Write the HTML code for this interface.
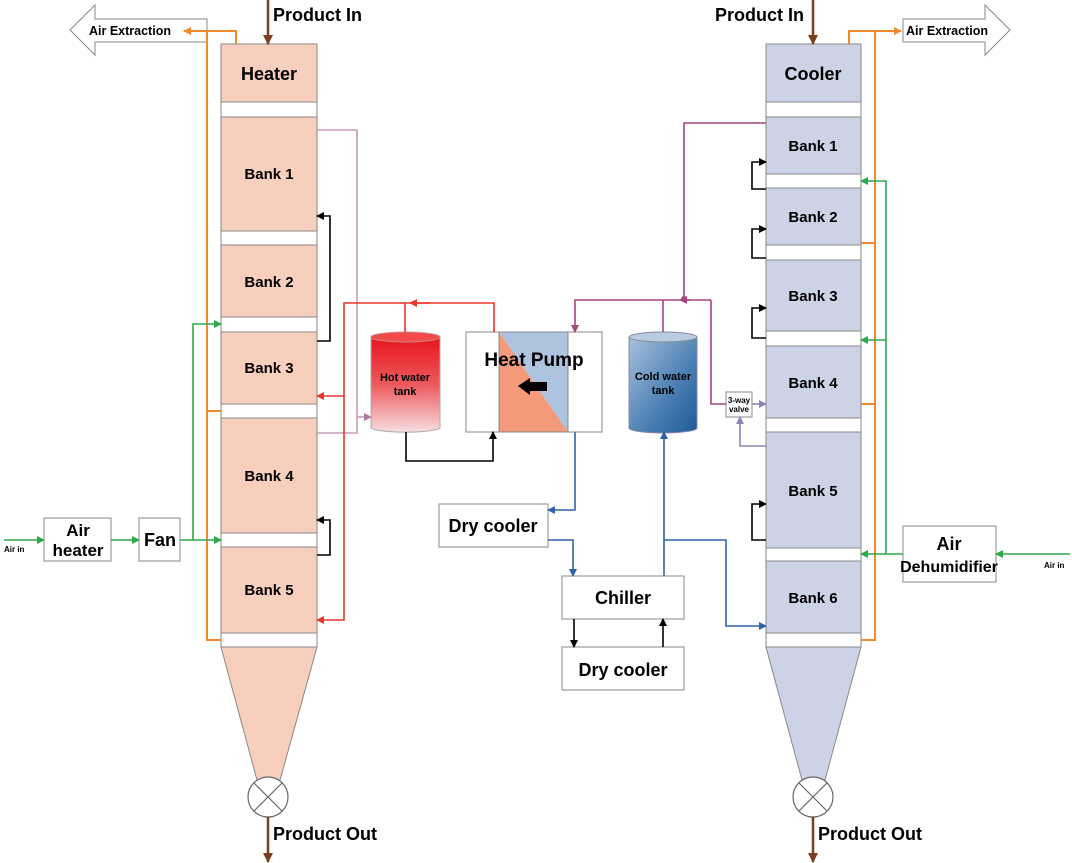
<!DOCTYPE html>
<html><head><meta charset="utf-8"><style>
html,body{margin:0;padding:0;background:#fff;}
svg{display:block;font-family:"Liberation Sans",sans-serif;font-weight:bold;}
</style></head><body>
<svg width="1072" height="863" viewBox="0 0 1072 863" xmlns="http://www.w3.org/2000/svg">
<defs>
<marker id="ab" markerWidth="8" markerHeight="8" refX="7" refY="4" orient="auto" markerUnits="userSpaceOnUse"><path d="M0,0 L8,4 L0,8z" fill="#000"/></marker>
<marker id="ar" markerWidth="8" markerHeight="8" refX="7" refY="4" orient="auto" markerUnits="userSpaceOnUse"><path d="M0,0 L8,4 L0,8z" fill="#e8362a"/></marker>
<marker id="ag" markerWidth="8" markerHeight="8" refX="7" refY="4" orient="auto" markerUnits="userSpaceOnUse"><path d="M0,0 L8,4 L0,8z" fill="#2da84a"/></marker>
<marker id="ao" markerWidth="8" markerHeight="8" refX="7" refY="4" orient="auto" markerUnits="userSpaceOnUse"><path d="M0,0 L8,4 L0,8z" fill="#f08a2c"/></marker>
<marker id="abl" markerWidth="8" markerHeight="8" refX="7" refY="4" orient="auto" markerUnits="userSpaceOnUse"><path d="M0,0 L8,4 L0,8z" fill="#2f63a8"/></marker>
<marker id="ap" markerWidth="8" markerHeight="8" refX="7" refY="4" orient="auto" markerUnits="userSpaceOnUse"><path d="M0,0 L8,4 L0,8z" fill="#b07aa0"/></marker>
<marker id="am" markerWidth="8" markerHeight="8" refX="7" refY="4" orient="auto" markerUnits="userSpaceOnUse"><path d="M0,0 L8,4 L0,8z" fill="#a5467f"/></marker>
<marker id="av" markerWidth="8" markerHeight="8" refX="7" refY="4" orient="auto" markerUnits="userSpaceOnUse"><path d="M0,0 L8,4 L0,8z" fill="#8a86b8"/></marker>
<marker id="abr" markerWidth="10" markerHeight="10" refX="9" refY="5" orient="auto" markerUnits="userSpaceOnUse"><path d="M0,0 L10,5 L0,10z" fill="#7b3f1d"/></marker>
<linearGradient id="hot" x1="0" y1="0" x2="0" y2="1"><stop offset="0" stop-color="#e8141c"/><stop offset="0.5" stop-color="#ec5a5e"/><stop offset="1" stop-color="#f8dde0"/></linearGradient>
<linearGradient id="cold" x1="0" y1="0" x2="1" y2="1"><stop offset="0" stop-color="#a8c0dc"/><stop offset="0.6" stop-color="#4a7fb4"/><stop offset="1" stop-color="#20589a"/></linearGradient>
</defs>

<polygon points="70,30 95,5 95,19 207,19 207,42 95,42 95,55" fill="#fff" stroke="#888" stroke-width="1"/>
<text x="89" y="35" font-size="12.5">Air Extraction</text>
<polygon points="1010,30 985,5 985,19 903,19 903,42 985,42 985,55" fill="#fff" stroke="#888" stroke-width="1"/>
<text x="906" y="35" font-size="12.5">Air Extraction</text>

<g stroke="#888" stroke-width="1">
<rect x="221" y="44" width="96" height="590" fill="#fff"/>
<rect x="221" y="44" width="96" height="58" fill="#f8cfbc"/>
<rect x="221" y="117" width="96" height="114" fill="#f8cfbc"/>
<rect x="221" y="245" width="96" height="72" fill="#f8cfbc"/>
<rect x="221" y="332" width="96" height="72" fill="#f8cfbc"/>
<rect x="221" y="418" width="96" height="115" fill="#f8cfbc"/>
<rect x="221" y="547" width="96" height="86" fill="#f8cfbc"/>
<rect x="221" y="633" width="96" height="14" fill="#fff"/>
<polygon points="221,647 317,647 280,780 257,780" fill="#f8cfbc"/>
</g>
<text x="269" y="80" font-size="18" text-anchor="middle">Heater</text>
<g font-size="15" text-anchor="middle">
<text x="269" y="179">Bank 1</text><text x="269" y="287">Bank 2</text><text x="269" y="373">Bank 3</text><text x="269" y="481">Bank 4</text><text x="269" y="595">Bank 5</text>
</g>
<circle cx="268" cy="797" r="20" fill="#fff" stroke="#666" stroke-width="1.2"/>
<path d="M254,783 L282,811 M282,783 L254,811" stroke="#666" stroke-width="1.2"/>

<g stroke="#888" stroke-width="1">
<rect x="766" y="44" width="95" height="590" fill="#fff"/>
<rect x="766" y="44" width="95" height="58" fill="#cdd3e6"/>
<rect x="766" y="117" width="95" height="57" fill="#cdd3e6"/>
<rect x="766" y="188" width="95" height="57" fill="#cdd3e6"/>
<rect x="766" y="260" width="95" height="71" fill="#cdd3e6"/>
<rect x="766" y="346" width="95" height="72" fill="#cdd3e6"/>
<rect x="766" y="432" width="95" height="116" fill="#cdd3e6"/>
<rect x="766" y="561" width="95" height="72" fill="#cdd3e6"/>
<rect x="766" y="633" width="95" height="14" fill="#fff"/>
<polygon points="766,647 861,647 825,780 802,780" fill="#cdd3e6"/>
</g>
<text x="813" y="80" font-size="18" text-anchor="middle">Cooler</text>
<g font-size="15" text-anchor="middle">
<text x="813" y="151">Bank 1</text><text x="813" y="222">Bank 2</text><text x="813" y="301">Bank 3</text><text x="813" y="388">Bank 4</text><text x="813" y="496">Bank 5</text><text x="813" y="603">Bank 6</text>
</g>
<circle cx="813" cy="797" r="20" fill="#fff" stroke="#666" stroke-width="1.2"/>
<path d="M799,783 L827,811 M827,783 L799,811" stroke="#666" stroke-width="1.2"/>

<g stroke="#7b3f1d" stroke-width="2.5" fill="none">
<line x1="268" y1="0" x2="268" y2="44" marker-end="url(#abr)"/>
<line x1="813" y1="0" x2="813" y2="44" marker-end="url(#abr)"/>
<line x1="268" y1="817" x2="268" y2="862" marker-end="url(#abr)"/>
<line x1="813" y1="817" x2="813" y2="862" marker-end="url(#abr)"/>
</g>
<g font-size="18">
<text x="273" y="21">Product In</text><text x="715" y="21">Product In</text>
<text x="273" y="840">Product Out</text><text x="818" y="840">Product Out</text>
</g>

<g fill="#fff" stroke="#888" stroke-width="1">
<rect x="44" y="518" width="67" height="43"/>
<rect x="139" y="518" width="41" height="43"/>
<rect x="903" y="526" width="93" height="56"/>
<rect x="439" y="504" width="109" height="43"/>
<rect x="562" y="576" width="122" height="43"/>
<rect x="562" y="647" width="122" height="43"/>
<rect x="726" y="392" width="26" height="25"/>
</g>
<g text-anchor="middle">
<text x="78" y="536" font-size="17">Air</text><text x="78" y="556" font-size="17">heater</text>
<text x="160" y="546" font-size="18">Fan</text>
<text x="949" y="550" font-size="18">Air</text><text x="949" y="572" font-size="16">Dehumidifier</text>
<text x="493" y="532" font-size="18">Dry cooler</text>
<text x="623" y="604" font-size="18">Chiller</text>
<text x="623" y="676" font-size="18">Dry cooler</text>
<text x="739" y="403" font-size="8">3-way</text><text x="739" y="412" font-size="8">valve</text>
</g>
<text x="4" y="552" font-size="8">Air in</text>
<text x="1044" y="568" font-size="8">Air in</text>

<rect x="466" y="332" width="136" height="100" fill="#fff" stroke="#888"/>
<polygon points="499,332 568,332 568,432" fill="#aec3e0"/>
<polygon points="499,332 568,432 499,432" fill="#f29a7a"/>
<rect x="466" y="332" width="136" height="100" fill="none" stroke="#888"/>
<line x1="499" y1="332" x2="499" y2="432" stroke="#888"/><line x1="568" y1="332" x2="568" y2="432" stroke="#888"/>
<text x="534" y="366" font-size="19" text-anchor="middle">Heat Pump</text>
<polygon points="518,386 530,378 530,382 547,382 547,391 530,391 530,395" fill="#000"/>

<path d="M371,337 L371,428 A35,5 0 0 0 440,428 L440,337 Z" fill="url(#hot)" stroke="#aaa"/>
<ellipse cx="405.5" cy="337" rx="34.5" ry="5" fill="#f04a4a" stroke="#c88"/>
<text x="405" y="381" font-size="11" text-anchor="middle">Hot water</text><text x="405" y="395" font-size="11" text-anchor="middle">tank</text>
<path d="M629,337 L629,428 A34,5 0 0 0 697,428 L697,337 Z" fill="url(#cold)" stroke="#88a"/>
<ellipse cx="663" cy="337" rx="34" ry="5" fill="#b8cce2" stroke="#889"/>
<text x="663" y="380" font-size="11" text-anchor="middle">Cold water</text><text x="663" y="394" font-size="11" text-anchor="middle">tank</text>

<g stroke="#f08a2c" stroke-width="2" fill="none">
<path d="M236,44 V31 H184" marker-end="url(#ao)"/>
<path d="M207,31 V640 H221 M207,411 H221"/>
<path d="M849,44 V31 H901" marker-end="url(#ao)"/>
<path d="M875,31 V640 H861 M875,243 H861 M875,404 H861"/>
</g>
<g stroke="#2da84a" stroke-width="1.6" fill="none">
<path d="M4,540 H44" marker-end="url(#ag)"/>
<path d="M111,540 H139" marker-end="url(#ag)"/>
<path d="M180,540 H221" marker-end="url(#ag)"/>
<path d="M193,540 V324 H221" marker-end="url(#ag)"/>
<path d="M1070,554 H996" marker-end="url(#ag)"/>
<path d="M903,554 H861" marker-end="url(#ag)"/>
<path d="M886,554 V181 H861" marker-end="url(#ag)"/>
<path d="M886,340 H861" marker-end="url(#ag)"/>
</g>
<g stroke="#c99ab8" stroke-width="1.6" fill="none">
<path d="M317,130 H357 V433 H317"/>
<path d="M357,417 H371" marker-end="url(#ap)"/>
</g>
<g stroke="#000" stroke-width="1.6" fill="none">
<path d="M317,341 H330 V216 H317" marker-end="url(#ab)"/>
<path d="M317,555 H330 V520 H317" marker-end="url(#ab)"/>
<path d="M406,432 V461 H493 V432" marker-end="url(#ab)"/>
<path d="M766,189 H752 V162 H766" marker-end="url(#ab)"/>
<path d="M766,258 H752 V229 H766" marker-end="url(#ab)"/>
<path d="M766,338 H752 V308 H766" marker-end="url(#ab)"/>
<path d="M766,540 H752 V504 H766" marker-end="url(#ab)"/>
<path d="M574,619 V647" marker-end="url(#ab)"/>
<path d="M663,647 V619" marker-end="url(#ab)"/>
</g>
<g stroke="#e8362a" stroke-width="1.6" fill="none">
<path d="M494,332 V303 H344 V620 H317" marker-end="url(#ar)"/>
<path d="M344,396 H317" marker-end="url(#ar)"/>
<path d="M405,332 V303"/>
<path d="M430,303 H410" marker-end="url(#ar)"/>
</g>
<g stroke="#2f63a8" stroke-width="1.6" fill="none">
<path d="M575,432 V510 H548" marker-end="url(#abl)"/>
<path d="M548,540 H573 V576" marker-end="url(#abl)"/>
<path d="M664,576 V432" marker-end="url(#abl)"/>
<path d="M664,540 H726 V626 H766" marker-end="url(#abl)"/>
</g>
<g stroke="#a5467f" stroke-width="1.6" fill="none">
<path d="M766,123 H684 V300"/>
<path d="M711,300 H575 V332" marker-end="url(#am)"/>
<path d="M663,332 V300"/>
<path d="M711,300 V404 H726"/>
<path d="M690,300 H680" marker-end="url(#am)"/>
</g>
<circle cx="684" cy="299" r="3" fill="#a5467f"/>
<g stroke="#8a86b8" stroke-width="1.6" fill="none">
<path d="M752,404 H766" marker-end="url(#av)"/>
<path d="M766,446 H740 V417" marker-end="url(#av)"/>
</g>
</svg>
</body></html>
